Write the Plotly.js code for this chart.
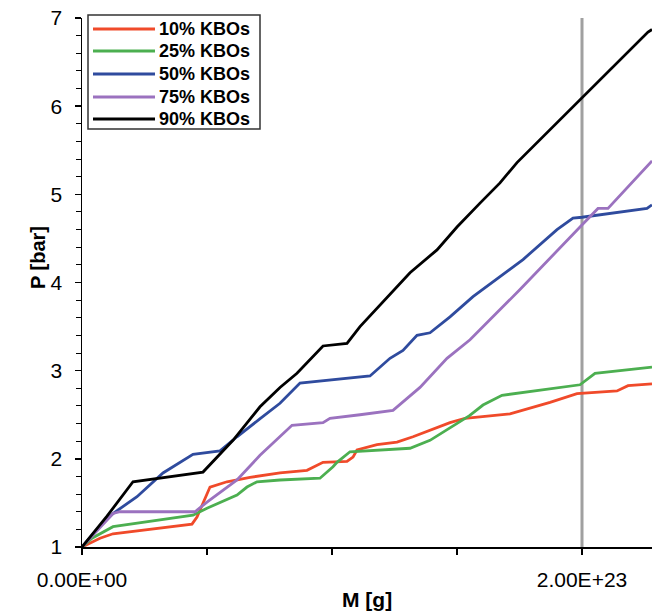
<!DOCTYPE html>
<html>
<head>
<meta charset="utf-8">
<script src="https://cdn.plot.ly/plotly-3.0.1.min.js"></script>
<style>html,body{margin:0;padding:0;background:#fff;}#chart{width:652px;height:614px;}</style>
</head>
<body>
<div id="chart"></div>
<script>
// Mass M [g] and pressure P [bar] for each KBO percentile series
const seriesNames = ["10% KBOs", "25% KBOs", "50% KBOs", "75% KBOs", "90% KBOs"];
const seriesColors = ["#f04a2a", "#4caf50", "#2f4b9e", "#9b72bf", "#000000"];

const m10 = [0, 7.2e21, 12.4e21, 44e21, 46e21, 51.2e21, 58e21, 67.2e21, 79.2e21, 90e21, 96.4e21, 106e21, 108.4e21, 110e21, 118e21, 126e21, 132.4e21, 142e21, 147.2e21, 153.2e21, 171.2e21, 187.2e21, 198e21, 214e21, 218.4e21, 228e21];
const p10 = [1, 1.10, 1.15, 1.26, 1.34, 1.68, 1.74, 1.79, 1.84, 1.87, 1.96, 1.97, 2.02, 2.10, 2.16, 2.19, 2.25, 2.35, 2.41, 2.46, 2.51, 2.64, 2.74, 2.77, 2.83, 2.85];

const m25 = [0, 4e21, 12.4e21, 20e21, 44.4e21, 50e21, 62e21, 66e21, 70e21, 79.2e21, 95.2e21, 100.4e21, 102e21, 107.2e21, 131.2e21, 139.2e21, 146e21, 147.2e21, 155e21, 160.4e21, 168e21, 199.2e21, 205.2e21, 228e21];
const p25 = [1, 1.10, 1.23, 1.26, 1.36, 1.44, 1.59, 1.68, 1.74, 1.76, 1.78, 1.91, 1.96, 2.08, 2.12, 2.21, 2.33, 2.36, 2.49, 2.61, 2.72, 2.84, 2.97, 3.04];

const m50 = [0, 6e21, 12.4e21, 22e21, 32.4e21, 39.2e21, 44.4e21, 55.2e21, 62e21, 71e21, 79.2e21, 87.2e21, 111.2e21, 115.2e21, 123.2e21, 128.4e21, 134e21, 139.2e21, 147.2e21, 156.4e21, 176.4e21, 190e21, 196.4e21, 200e21, 226e21, 228e21];
const p50 = [1, 1.20, 1.38, 1.57, 1.84, 1.96, 2.05, 2.09, 2.25, 2.45, 2.63, 2.86, 2.93, 2.94, 3.14, 3.23, 3.40, 3.43, 3.61, 3.84, 4.26, 4.60, 4.73, 4.74, 4.84, 4.88];

const m75 = [0, 12.4e21, 15.2e21, 45.2e21, 50e21, 62e21, 71.2e21, 79.2e21, 84e21, 96.4e21, 99.2e21, 111.2e21, 124.4e21, 135.2e21, 146e21, 155.2e21, 175.2e21, 199.2e21, 206.4e21, 210.4e21, 227.2e21, 228e21];
const p75 = [1, 1.38, 1.40, 1.40, 1.51, 1.76, 2.04, 2.25, 2.38, 2.41, 2.46, 2.50, 2.55, 2.81, 3.14, 3.35, 3.92, 4.63, 4.84, 4.84, 5.36, 5.38];

const m90 = [0, 10e21, 20.4e21, 48.4e21, 60.4e21, 71.2e21, 79.2e21, 86e21, 96.4e21, 106e21, 111.2e21, 131.2e21, 142e21, 150e21, 159.2e21, 167.2e21, 174e21, 200e21, 226.4e21, 228e21];
const p90 = [1, 1.35, 1.74, 1.85, 2.21, 2.59, 2.81, 2.97, 3.28, 3.31, 3.50, 4.11, 4.37, 4.63, 4.90, 5.13, 5.36, 6.09, 6.84, 6.87];

const xTickVals = [0, 5e22, 1e23, 1.5e23, 2e23];
const xTickText = ["0.00E+00", "", "", "", "2.00E+23"];
const markerMass = 2e23;

const xs = [m10, m25, m50, m75, m90];
const ys = [p10, p25, p50, p75, p90];

const W = 652, H = 614;
const M = {l: 82, r: 0, t: 18, b: 67};
const plotW = W - M.l - M.r, plotH = H - M.t - M.b;
const px2x = px => (px - M.l) / plotW;      // pixel -> paper x
const py2y = py => (H - M.b - py) / plotH;  // pixel -> paper y

const traces = [];
// vertical reference line at M = 2e23
traces.push({x: [markerMass, markerMass], y: [1, 7], mode: "lines", line: {color: "#a0a0a0", width: 3}, showlegend: false, hoverinfo: "skip"});
for (let i = 0; i < seriesNames.length; i++) {
  traces.push({x: xs[i], y: ys[i], name: seriesNames[i], mode: "lines", line: {color: seriesColors[i], width: 2.8}, showlegend: false});
}

const font = "Liberation Sans, Arial, sans-serif";

// hand-drawn legend box (placement only)
const legendRowsY = [29, 51, 74, 97, 119];
const shapes = [{type: "rect", xref: "paper", yref: "paper", x0: px2x(88), x1: px2x(260), y0: py2y(15), y1: py2y(129),
  line: {color: "#333", width: 1.5}, fillcolor: "#fff", layer: "above"}];
const annotations = [];
for (let i = 0; i < seriesNames.length; i++) {
  shapes.push({type: "line", xref: "paper", yref: "paper", x0: px2x(93), x1: px2x(155), y0: py2y(legendRowsY[i]), y1: py2y(legendRowsY[i]),
    line: {color: seriesColors[i], width: 3}, layer: "above"});
  annotations.push({text: seriesNames[i], xref: "paper", yref: "paper", x: px2x(157), y: py2y(legendRowsY[i]), xanchor: "left", yanchor: "middle",
    showarrow: false, font: {family: font, size: 18, color: "#000", weight: "bold"}});
}
annotations.push({text: "M [g]", xref: "paper", yref: "paper", x: 0.5, y: py2y(599), yanchor: "middle", xanchor: "center", showarrow: false,
  font: {family: font, size: 21, color: "#000", weight: "bold"}});
annotations.push({text: "P [bar]", xref: "paper", yref: "paper", x: px2x(38), y: py2y(258), xanchor: "center", yanchor: "middle", textangle: -90, showarrow: false,
  font: {family: font, size: 20, color: "#000", weight: "bold"}});

const layout = {
  width: W, height: H,
  margin: M,
  paper_bgcolor: "#fff", plot_bgcolor: "#fff",
  showlegend: false,
  xaxis: {
    range: [0, 2.28e23], showgrid: false, zeroline: false,
    showline: true, linecolor: "#000", linewidth: 1.5,
    ticks: "outside", ticklen: 6, tickcolor: "#000", tickwidth: 1.5,
    tickvals: xTickVals, ticktext: xTickText, ticklabelstandoff: 7,
    tickfont: {family: font, size: 21, color: "#000"}
  },
  yaxis: {
    range: [1, 7], showgrid: false, zeroline: false,
    showline: true, linecolor: "#000", linewidth: 1.5,
    ticks: "outside", ticklen: 6, tickcolor: "#000", tickwidth: 1.5,
    dtick: 1, tick0: 0, ticklabelstandoff: 8,
    tickfont: {family: font, size: 21, color: "#000"},
    minor: {dtick: 0.2, ticks: "outside", ticklen: 5, tickcolor: "#000", tickwidth: 1}
  },
  shapes: shapes,
  annotations: annotations
};

Plotly.newPlot("chart", traces, layout, {staticPlot: true, displayModeBar: false});
</script>
</body>
</html>
